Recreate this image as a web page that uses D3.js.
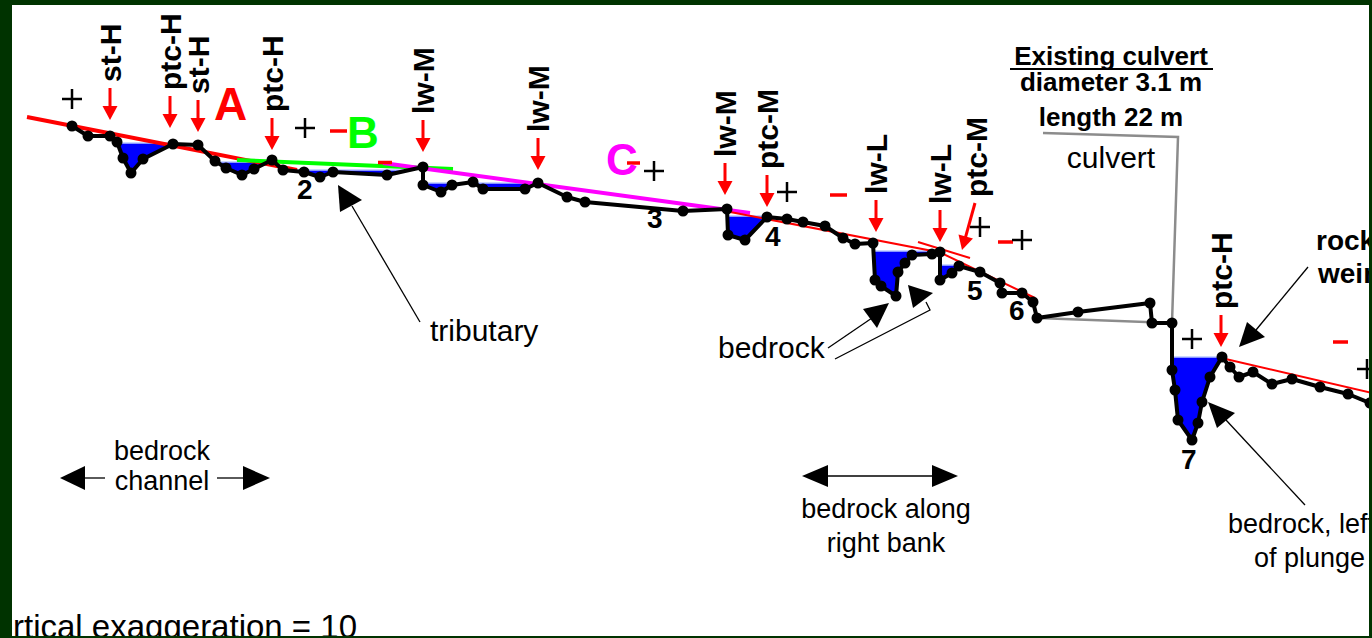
<!DOCTYPE html>
<html>
<head>
<meta charset="utf-8">
<script src="https://cdn.jsdelivr.net/npm/d3@7"></script>
<style>
  body { margin: 0; background: #003300; }
  svg { display: block; }
</style>
</head>
<body>
<div id="chart"></div>
<script>
// surveyed bed profile: distance along channel (m), bed elevation (m)
const profDist = [14.4, 17.6, 22, 23.4, 24.6, 26.2, 28.6, 34.6, 39.6, 43, 45.2, 48.4, 50.8, 54.4, 56.6, 60.8, 64, 66.6, 77.4, 84.6,
  84.6, 88.2, 90.4, 94.6, 96.6, 105, 107.6, 113.4, 117, 136.6, 145.4, 145.6, 149, 153.4, 157.4, 160.6, 165, 168.6, 171, 174.6,
  175, 176.2, 179.2, 179.6, 181, 182.4, 186.4, 188, 188, 190.4, 191.8, 196, 200, 200.4, 204.4, 206.6, 207.4, 215.6, 230, 230.4,
  234.4, 234.4, 235, 235.6, 238.4, 239.6, 240.4, 242, 244.4, 246, 247.8, 250.6, 254.4, 258.4, 264, 269.6, 274, 275];
const profElev = [10.48, 10.28, 10.28, 10.16, 9.84, 9.54, 9.82, 10.12, 10.10, 9.78, 9.64, 9.50, 9.62, 9.80, 9.60, 9.56, 9.46, 9.56, 9.50, 9.66,
  9.30, 9.16, 9.30, 9.36, 9.22, 9.22, 9.34, 9.06, 8.96, 8.78, 8.82, 8.30, 8.20, 8.66, 8.62, 8.56, 8.48, 8.24, 8.12, 8.14,
  7.40, 7.28, 7.08, 7.56, 7.74, 7.90, 7.92, 7.96, 7.40, 7.54, 7.68, 7.56, 7.34, 7.14, 7.14, 6.96, 6.64, 6.76, 6.94, 6.54,
  6.54, 5.60, 5.20, 4.60, 4.20, 4.54, 4.96, 5.46, 5.86, 5.66, 5.46, 5.56, 5.32, 5.42, 5.26, 5.12, 4.94, 4.40];

// pools: water surface elevation and extent
const poolLevel = [10.14, 9.76, 9.60, 9.34, 9.34, 8.68, 7.98, 7.70, 5.86];
const poolFrom = [23.6, 43.2, 56.6, 84.6, 95.2, 145.5, 174.8, 188, 234.4];
const poolTo = [34.2, 53.6, 81.8, 93.2, 107.2, 153.6, 187.6, 191.9, 244.3];

// water surface slope lines (A, B, C and the unlabelled red ones)
const slopeName = ["A", "B", "C", "D", "E", "F", "G"];
const slopeDist0 = [5.4, 47.4, 76.6, 145, 187, 183.6, 243.4];
const slopeElev0 = [10.66, 9.80, 9.74, 8.78, 8.0, 8.16, 5.86];
const slopeDist1 = [59.4, 90.6, 150, 188.6, 207, 194, 274.4];
const slopeElev1 = [9.60, 9.62, 8.74, 7.94, 7.04, 7.84, 5.14];

// short red marks
const dashDist0 = [66, 75.6, 125.4, 166, 199.6, 266.6];
const dashDist1 = [69.4, 78.4, 128, 169.4, 202.6, 269.6];
const dashElev = [10.38, 9.75, 9.74, 9.10, 8.16, 6.16];

// culvert outline
const culvertDist = [208.6, 235.6, 234.4, 207.4];
const culvertElev = [10.34, 10.26, 6.54, 6.64];

// "+" markers
const plusDist = [14.4, 61, 130.8, 157.4, 196, 204.4, 238.4, 273.4];
const plusElev = [11.02, 10.44, 9.58, 9.16, 8.46, 8.20, 6.22, 5.62];

// habitat unit arrows
const arrowDist = [22, 34, 39.6, 54.4, 84.6, 107.6, 145, 153.4, 175.2, 188, 244.2];
const arrowTip = [10.6, 10.44, 10.36, 10.0, 9.96, 9.6, 9.1, 8.86, 8.36, 8.16, 6.06];
const arrowLabel = ["st-H", "ptc-H", "st-H", "ptc-H", "lw-M", "lw-M", "lw-M", "ptc-M", "lw-L", "lw-L", "ptc-H"];

const W = 1372, H = 638;
const font = "'Liberation Sans', Arial, Helvetica, sans-serif";

const x = d3.scaleLinear().domain([0, 274.4]).range([0, 1372]);
const y = d3.scaleLinear().domain([0, 13]).range([650, 0]);

const svg = d3.select("#chart").append("svg")
  .attr("width", W)
  .attr("height", H);

svg.append("rect").attr("width", W).attr("height", H).attr("fill", "#003300");

svg.append("clipPath").attr("id", "panel")
  .append("rect").attr("x", 12).attr("y", 5).attr("width", 1357).attr("height", 631);

svg.append("rect").attr("x", 12).attr("y", 5).attr("width", 1357).attr("height", 631).attr("fill", "#fff");

const g = svg.append("g").attr("clip-path", "url(#panel)");

const line = d3.line().x(d => x(d[0])).y(d => y(d[1]));
const profile = profDist.map((d, i) => [d, profElev[i]]);

// culvert
g.append("path")
  .attr("d", line(culvertDist.map((d, i) => [d, culvertElev[i]])))
  .attr("fill", "none")
  .attr("stroke", "#8c8c8c")
  .attr("stroke-width", 2.5);

// pools
poolLevel.forEach((lv, i) => {
  const pts = [[poolFrom[i], lv]]
    .concat(profile.filter(p => p[0] >= poolFrom[i] && p[0] <= poolTo[i] && p[1] < lv))
    .concat([[poolTo[i], lv]]);
  g.append("path").attr("d", line(pts) + "Z").attr("fill", "#0000ff");
  g.append("line")
    .attr("x1", x(poolFrom[i])).attr("x2", x(poolTo[i]))
    .attr("y1", y(lv)).attr("y2", y(lv))
    .attr("stroke", "#b8c8ff").attr("stroke-width", 1.5);
});

// slope lines
const slopeColor = { A: "#ff0000", B: "#00ff00", C: "#ff00ff" };
slopeName.forEach((n, i) => {
  g.append("line")
    .attr("x1", x(slopeDist0[i])).attr("y1", y(slopeElev0[i]))
    .attr("x2", x(slopeDist1[i])).attr("y2", y(slopeElev1[i]))
    .attr("stroke", slopeColor[n] || "#ff0000")
    .attr("stroke-width", slopeColor[n] ? 4 : 2);
});

// bed profile
g.append("path")
  .attr("d", line(profile))
  .attr("fill", "none")
  .attr("stroke", "#000")
  .attr("stroke-width", 4)
  .attr("stroke-linejoin", "round");

g.selectAll("circle.pt")
  .data(profile)
  .enter()
  .append("circle")
  .attr("class", "pt")
  .attr("cx", d => x(d[0]))
  .attr("cy", d => y(d[1]))
  .attr("r", 5.5)
  .attr("fill", "#000");

// red marks
dashElev.forEach((e, i) => {
  g.append("line")
    .attr("x1", x(dashDist0[i])).attr("x2", x(dashDist1[i]))
    .attr("y1", y(e)).attr("y2", y(e))
    .attr("stroke", "#ff0000").attr("stroke-width", 3.5);
});

// plus markers
plusDist.forEach((d, i) => {
  const cx = x(d), cy = y(plusElev[i]);
  g.append("path")
    .attr("d", `M${cx - 10},${cy}H${cx + 10}M${cx},${cy - 10}V${cy + 10}`)
    .attr("stroke", "#000").attr("stroke-width", 2.5);
});

function redArrow(x1, y1, x2, y2) {
  const a = Math.atan2(y2 - y1, x2 - x1);
  const c = Math.cos(a), s = Math.sin(a);
  const bx = x2 - c * 14, by = y2 - s * 14;
  g.append("line")
    .attr("x1", x1).attr("y1", y1).attr("x2", bx + c).attr("y2", by + s)
    .attr("stroke", "#ff0000").attr("stroke-width", 3);
  g.append("path")
    .attr("d", `M${x2},${y2}L${bx - s * 7.5},${by + c * 7.5}L${bx + s * 7.5},${by - c * 7.5}Z`)
    .attr("fill", "#ff0000");
}

function vLabel(px, py, txt) {
  g.append("text")
    .attr("transform", `translate(${px},${py}) rotate(-90)`)
    .attr("font-family", font)
    .attr("font-weight", "bold")
    .attr("font-size", "30px")
    .attr("fill", "#000")
    .text(txt);
}

arrowDist.forEach((d, i) => {
  const px = x(d), tip = y(arrowTip[i]);
  redArrow(px, tip - 32, px, tip);
  vLabel(px + 11, tip - 38, arrowLabel[i]);
});

// slanted ptc-M arrow
redArrow(x(195), y(8.94), x(192.4), y(8.0));
vLabel(x(195) + 12, y(8.94) - 6, "ptc-M");

function txt(px, py, s, opt) {
  opt = opt || {};
  return g.append("text")
    .attr("x", px).attr("y", py)
    .attr("font-family", font)
    .attr("font-size", (opt.size || 28) + "px")
    .attr("font-weight", opt.bold ? "bold" : "normal")
    .attr("text-anchor", opt.anchor || "start")
    .attr("fill", opt.color || "#000")
    .text(s);
}

// slope letters
txt(214, 120, "A", { size: 46, bold: true, color: "#ff0000" });
txt(347, 148, "B", { size: 44, bold: true, color: "#00ff00" });
txt(606, 175, "C", { size: 44, bold: true, color: "#ff00ff" });

// station numbers
txt(297, 199, "2", { bold: true });
txt(647, 228, "3", { bold: true });
txt(765, 246, "4", { bold: true });
txt(967, 300, "5", { bold: true });
txt(1009, 320, "6", { bold: true });
txt(1181, 469, "7", { bold: true });

// culvert notes
txt(1111, 65, "Existing culvert", { size: 26, bold: true, anchor: "middle" });
g.append("line").attr("x1", 1010).attr("x2", 1213).attr("y1", 69).attr("y2", 69)
  .attr("stroke", "#000").attr("stroke-width", 2);
txt(1111, 91, "diameter 3.1 m", { size: 26, bold: true, anchor: "middle" });
txt(1111, 126, "length 22 m", { size: 26, bold: true, anchor: "middle" });
txt(1111, 168, "culvert", { size: 30, anchor: "middle" });

txt(1316, 250, "rock", { size: 28, bold: true });
txt(1318, 283, "weir", { size: 28, bold: true });

txt(430, 341, "tributary", { size: 30 });
txt(718, 358, "bedrock", { size: 30 });
txt(162, 460, "bedrock", { size: 27, anchor: "middle" });
txt(162, 490, "channel", { size: 27, anchor: "middle" });
txt(886, 518, "bedrock along", { size: 27, anchor: "middle" });
txt(886, 552, "right bank", { size: 27, anchor: "middle" });
txt(1228, 533, "bedrock, left", { size: 27 });
txt(1254, 567, "of plunge", { size: 27 });
txt(357, 638, "Vertical exaggeration = 10", { size: 33, anchor: "end" });

// callout arrows
function callLine(pts) {
  g.append("path").attr("d", d3.line()(pts))
    .attr("fill", "none").attr("stroke", "#000").attr("stroke-width", 1.3);
}
function head(pts) {
  g.append("path").attr("d", d3.line()(pts) + "Z").attr("fill", "#000");
}

callLine([[420, 322], [352, 206]]);
head([[338, 185], [340, 212], [362, 200]]);

callLine([[828, 348], [872, 318]]);
head([[889, 303], [863, 309], [877, 328]]);
callLine([[835, 359], [930, 310], [926, 302]]);
head([[908, 285], [933, 293], [913, 308]]);

callLine([[1308, 267], [1256, 330]]);
head([[1239, 347], [1247, 322], [1265, 337]]);

callLine([[1305, 505], [1226, 420]]);
head([[1208, 402], [1235, 413], [1217, 428]]);

callLine([[84, 478], [105, 478]]);
head([[60, 478], [85, 466], [85, 490]]);
callLine([[217, 478], [244, 478]]);
head([[270, 478], [243, 466], [243, 490]]);

callLine([[826, 476], [934, 476]]);
head([[802, 476], [828, 465], [828, 487]]);
head([[958, 476], [932, 465], [932, 487]]);
</script>
</body>
</html>
